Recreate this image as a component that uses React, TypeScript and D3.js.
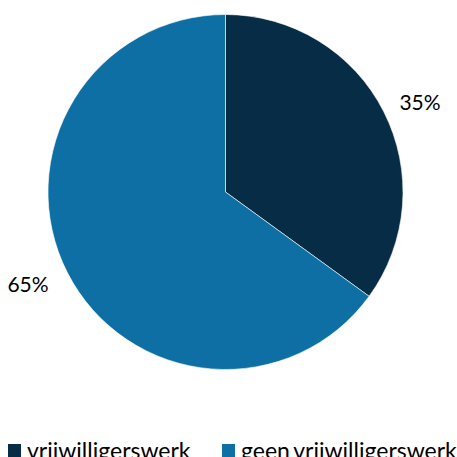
import React from "react";
import * as d3 from "d3";

const categories = ["vrijwilligerswerk", "geen vrijwilligerswerk"];
const values = [35, 65];
const labels = ["35%", "65%"];
const colors = ["#062D45", "#0D6FA4"];

export default function App() {
  const W = 457, H = 457;
  const cx = 225.5, cy = 192, r = 177.5;
  const pie = d3.pie<number>().sort(null).value((d) => d);
  const arcs = pie(values);
  const arc = d3.arc<d3.PieArcDatum<number>>().innerRadius(0).outerRadius(r);
  const labelPos = [
    { x: 420, y: 110 },
    { x: 28, y: 292 },
  ];
  const legendX = [8, 222];
  return (
    <svg width={W} height={H} style={{ position: "absolute", left: 0, top: 0, background: "#fff" }}
      fontFamily="Lato, 'Open Sans', sans-serif">
      <g transform={`translate(${cx},${cy})`}>
        {arcs.map((a, i) => (
          <path key={i} d={arc(a) || ""} fill={colors[i]} stroke="#fff" strokeWidth={0.6} />
        ))}
      </g>
      {labels.map((t, i) => (
        <text key={i} x={labelPos[i].x} y={labelPos[i].y} textAnchor="middle" fontSize={21} fill="#000">
          {t}
        </text>
      ))}
      {categories.map((c, i) => (
        <g key={i}>
          <rect x={legendX[i]} y={444} width={13} height={13} fill={colors[i]} />
          <text x={legendX[i] + 19} y={459} fontSize={23} fill="#000" wordSpacing={-2}>{c}</text>
        </g>
      ))}
    </svg>
  );
}
